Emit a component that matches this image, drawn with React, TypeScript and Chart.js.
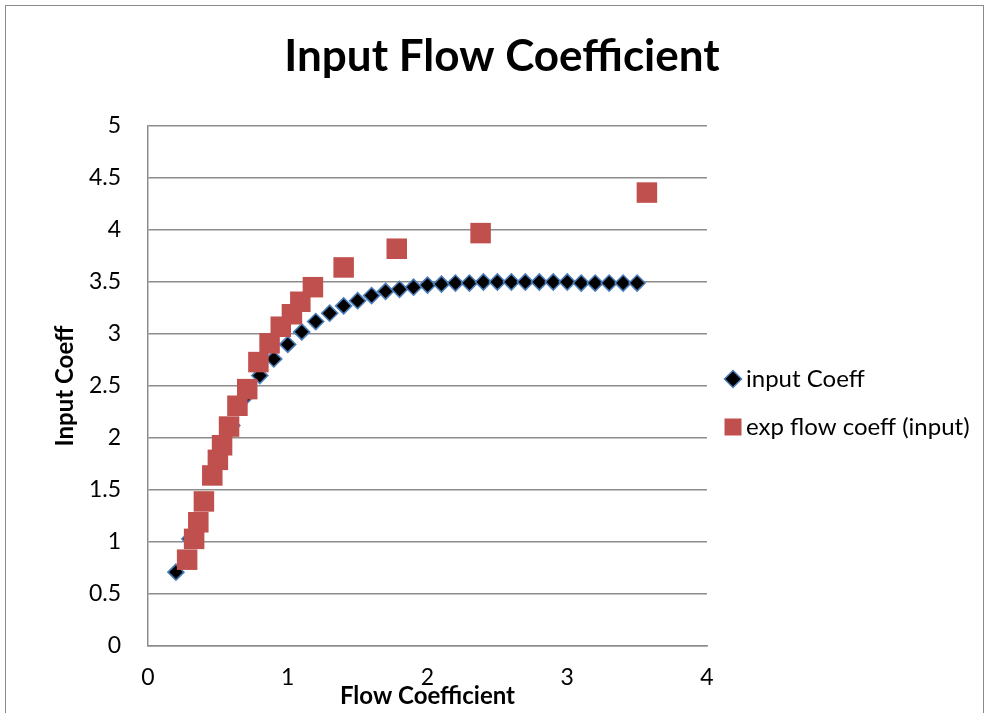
import React, { useEffect, useRef } from "react";
import Chart from "chart.js/auto";

const titleText = "Input Flow Coefficient";
const xTitle = "Flow Coefficient";
const yTitle = "Input Coeff";
const seriesNames = ["input Coeff", "exp flow coeff (input)"];

const inputX = [0.2, 0.3, 0.4, 0.5, 0.6, 0.7, 0.8, 0.9, 1.0, 1.1, 1.2, 1.3, 1.4, 1.5, 1.6, 1.7, 1.8, 1.9, 2.0, 2.1, 2.2, 2.3, 2.4, 2.5, 2.6, 2.7, 2.8, 2.9, 3.0, 3.1, 3.2, 3.3, 3.4, 3.5];
const inputY = [0.71, 1.03, 1.38, 1.77, 2.12, 2.4, 2.6, 2.76, 2.9, 3.02, 3.12, 3.2, 3.27, 3.32, 3.37, 3.41, 3.43, 3.45, 3.47, 3.48, 3.49, 3.49, 3.5, 3.5, 3.5, 3.5, 3.5, 3.5, 3.5, 3.49, 3.49, 3.49, 3.49, 3.49];

const expX = [0.28, 0.33, 0.36, 0.4, 0.46, 0.5, 0.53, 0.58, 0.64, 0.71, 0.79, 0.87, 0.95, 1.03, 1.09, 1.18, 1.4, 1.78, 2.38, 3.57];
const expY = [0.83, 1.03, 1.19, 1.39, 1.64, 1.79, 1.93, 2.11, 2.31, 2.47, 2.73, 2.91, 3.07, 3.19, 3.31, 3.45, 3.64, 3.82, 3.97, 4.36];

const xMin = 0, xMax = 4, xStep = 1;
const yMin = 0, yMax = 5, yStep = 0.5;

const FONT = "Lato, 'Open Sans', sans-serif";
const GRID = "#8c8c8c";
const DIAMOND_FILL = "#000000";
const DIAMOND_EDGE = "#4A7EBB";
const SQUARE_FILL = "#C0504D";

const overlay = {
  id: "overlay",
  afterDraw(chart: any) {
    const ctx = chart.ctx as CanvasRenderingContext2D;
    ctx.save();
    ctx.fillStyle = "#000";
    ctx.textBaseline = "middle";
    ctx.textAlign = "center";
    ctx.font = `bold 44px ${FONT}`;
    ctx.fillText(titleText, 502, 57);

    // legend
    ctx.textAlign = "left";
    ctx.font = `24px ${FONT}`;
    const lx = 733;
    const ly1 = 379;
    const ly2 = 427;
    const r = 8.5;
    ctx.beginPath();
    ctx.moveTo(lx - r, ly1);
    ctx.lineTo(lx, ly1 - r);
    ctx.lineTo(lx + r, ly1);
    ctx.lineTo(lx, ly1 + r);
    ctx.closePath();
    ctx.fillStyle = DIAMOND_FILL;
    ctx.fill();
    ctx.lineWidth = 1.5;
    ctx.strokeStyle = DIAMOND_EDGE;
    ctx.stroke();
    ctx.fillStyle = SQUARE_FILL;
    ctx.fillRect(lx - 8.5, ly2 - 8.5, 17, 17);
    ctx.fillStyle = "#000";
    ctx.fillText(seriesNames[0], 746, ly1);
    ctx.fillText(seriesNames[1], 746, ly2);
    ctx.restore();
  },
};

const fmt = (v: any) => String(Number(v));

export default function App() {
  const ref = useRef<HTMLCanvasElement>(null);
  useEffect(() => {
    const chart = new Chart(ref.current as HTMLCanvasElement, {
      type: "scatter",
      data: {
        datasets: [
          {
            label: seriesNames[0],
            data: inputX.map((x, i) => ({ x, y: inputY[i] })),
            pointStyle: "rectRot",
            pointRadius: 8,
            pointHoverRadius: 8,
            backgroundColor: DIAMOND_FILL,
            borderColor: DIAMOND_EDGE,
            borderWidth: 1.6,
            showLine: false,
            order: 2,
          },
          {
            label: seriesNames[1],
            data: expX.map((x, i) => ({ x, y: expY[i] })),
            pointStyle: "rect",
            pointRadius: 14.5,
            pointHoverRadius: 14.5,
            backgroundColor: SQUARE_FILL,
            borderColor: SQUARE_FILL,
            borderWidth: 0,
            showLine: false,
            order: 1,
          },
        ],
      },
      options: {
        responsive: false,
        devicePixelRatio: 1,
        animation: false,
        layout: { padding: { left: 0, right: 279, top: 126, bottom: 0 } },
        plugins: {
          legend: { display: false },
          tooltip: { enabled: false },
          title: { display: false },
        },
        font: { family: FONT },
        scales: {
          x: {
            type: "linear",
            min: xMin,
            max: xMax,
            ticks: { stepSize: xStep, color: "#000", font: { size: 23, family: FONT }, padding: 18, callback: fmt },
            grid: { display: false, drawTicks: false },
            border: { display: true, color: GRID, width: 1.5 },
            title: {
              display: true,
              text: xTitle,
              color: "#000",
              font: { size: 24, weight: "bold", family: FONT },
              padding: { top: 0, bottom: 2 },
            },
            afterFit: (s: any) => {
              s.height = 67;
            },
          },
          y: {
            type: "linear",
            min: yMin,
            max: yMax,
            ticks: { stepSize: yStep, color: "#000", font: { size: 23, family: FONT }, padding: 27, callback: fmt },
            grid: { color: GRID, lineWidth: 1.5, drawTicks: false },
            border: { display: true, color: GRID, width: 1.5 },
            title: {
              display: true,
              text: yTitle,
              color: "#000",
              font: { size: 24, weight: "bold", family: FONT },
              padding: { top: 51, bottom: 0 },
            },
            afterFit: (s: any) => {
              s.width = 148;
            },
          },
        },
      } as any,
      plugins: [overlay],
    });
    return () => chart.destroy();
  }, []);

  return (
    <div style={{ position: "fixed", left: 0, top: 0, width: 986, height: 713, overflow: "hidden", background: "#fff" }}>
      <div style={{ position: "absolute", left: 5, top: 5, width: 977, height: 800, border: "1px solid #8a8a8a" }} />
      <canvas ref={ref} width={986} height={713} style={{ position: "absolute", left: 0, top: 0, width: 986, height: 713 }} />
    </div>
  );
}
